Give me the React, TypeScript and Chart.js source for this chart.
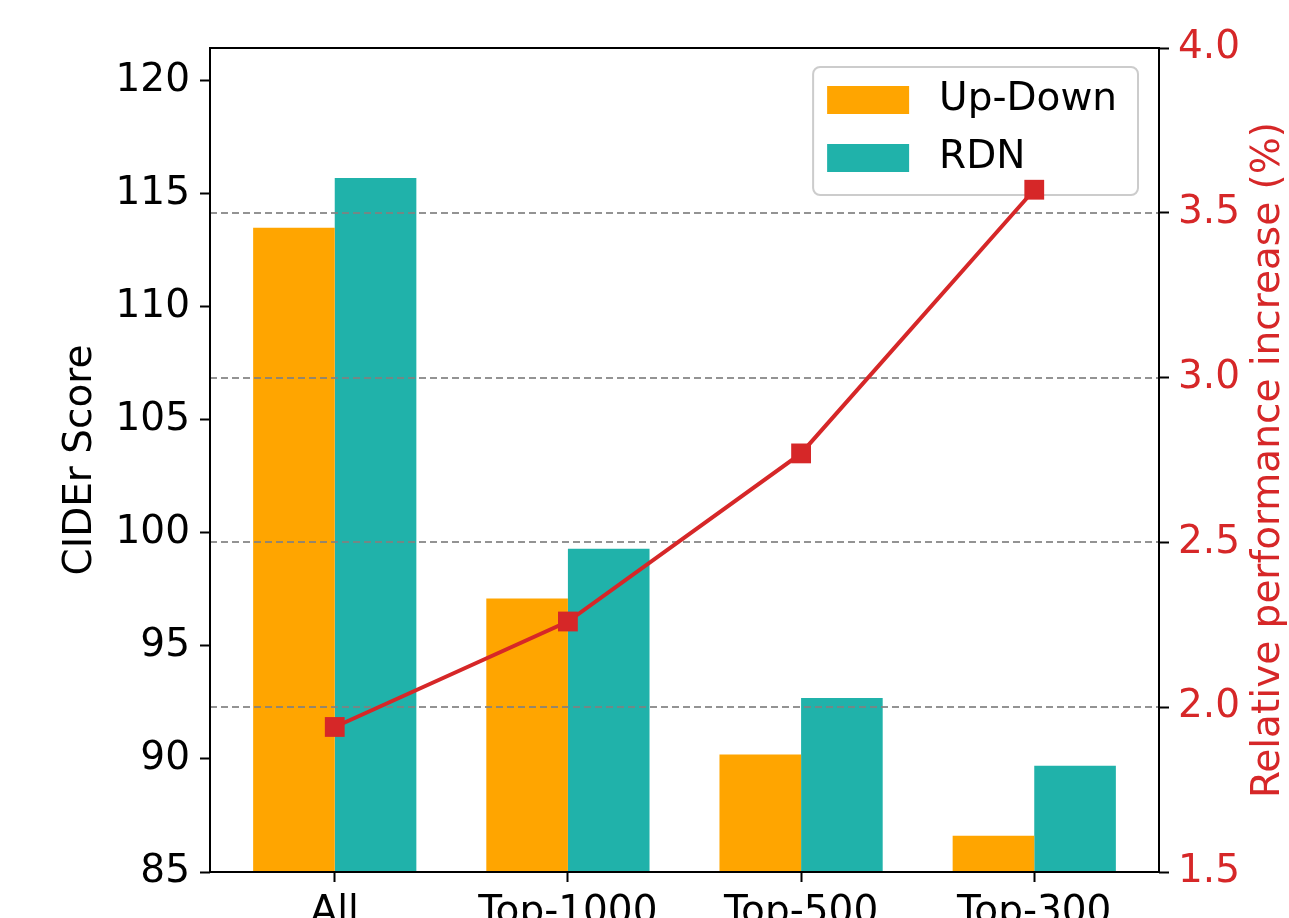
import React, { useEffect, useRef } from "react";
import { Chart, registerables } from "chart.js";

Chart.register(...registerables);

// ---- data ----
const categories = ["All", "Top-1000", "Top-500", "Top-300"];
const upDown = [113.5, 97.1, 90.2, 86.6];
const rdn = [115.7, 99.3, 92.7, 89.7];
const relIncrease = [1.94, 2.26, 2.77, 3.57];
const leftTicks = [85, 90, 95, 100, 105, 110, 115, 120];
const rightTicks = [1.5, 2.0, 2.5, 3.0, 3.5, 4.0];
const seriesNames = ["Up-Down", "RDN"];
const leftTitle = "CIDEr Score";
const rightTitle = "Relative performance increase (%)";

// ---- styles ----
const ORANGE = "#FFA500";
const TEAL = "#20B2AA";
const RED = "#D62728";
const FAMILY = "'DejaVu Sans', 'Liberation Sans', sans-serif";
const FS = 39;

const overlayPlugin = {
  id: "overlay",
  beforeDatasetDraw(chart: any, args: any) {
    if (args.meta.type !== "line") return;
    const { ctx, chartArea: ca, scales } = chart;
    // dashed grid lines (right axis), drawn above bars
    ctx.save();
    ctx.strokeStyle = "rgba(128,128,128,0.85)";
    ctx.lineWidth = 2;
    ctx.setLineDash([7, 4]);
    for (const t of scales.y2.ticks) {
      const y = Math.round(scales.y2.getPixelForValue(t.value));
      if (y <= ca.top + 1 || y >= ca.bottom - 1) continue;
      ctx.beginPath();
      ctx.moveTo(ca.left, y);
      ctx.lineTo(ca.right, y);
      ctx.stroke();
    }
    ctx.restore();

    // legend (drawn before the line, like matplotlib twin axes)
    ctx.save();
    ctx.font = `${FS}px ${FAMILY}`;
    const tw = Math.max(...seriesNames.map((s) => ctx.measureText(s).width));
    const padL = 14, patchW = 82, patchH = 28, gap = 30, padR = 21;
    const w = padL + patchW + gap + tw + padR;
    const h = 128;
    const right = ca.right - 21;
    const top = ca.top + 19;
    const left = right - w;
    ctx.beginPath();
    ctx.roundRect(left, top, w, h, 7);
    ctx.fillStyle = "rgba(255,255,255,0.85)";
    ctx.fill();
    ctx.strokeStyle = "#cccccc";
    ctx.lineWidth = 2;
    ctx.stroke();
    const colors = [ORANGE, TEAL];
    const rowC = [top + 33, top + 91];
    seriesNames.forEach((name, i) => {
      ctx.fillStyle = colors[i];
      ctx.fillRect(left + padL, rowC[i] - patchH / 2, patchW, patchH);
      ctx.fillStyle = "#000";
      ctx.textBaseline = "middle";
      ctx.textAlign = "left";
      ctx.fillText(name, left + padL + patchW + gap, rowC[i]);
    });
    ctx.restore();
  },
  afterDatasetsDraw(chart: any) {
    const { ctx, chartArea: ca } = chart;
    ctx.save();
    ctx.strokeStyle = "#000";
    ctx.lineWidth = 2;
    ctx.strokeRect(ca.left, ca.top, ca.right - ca.left, ca.bottom - ca.top);
    ctx.restore();
  },
  afterDraw(chart: any) {
    const { ctx, chartArea: ca } = chart;
    ctx.save();
    ctx.font = `${FS}px ${FAMILY}`;
    ctx.fillStyle = RED;
    ctx.textAlign = "center";
    ctx.textBaseline = "middle";
    ctx.translate(ca.right + 110, (ca.top + ca.bottom) / 2);
    ctx.rotate(-Math.PI / 2);
    ctx.fillText(rightTitle, 0, 0);
    ctx.restore();
  },
};

export default function App() {
  const canvasRef = useRef<HTMLCanvasElement | null>(null);

  useEffect(() => {
    if (!canvasRef.current) return;
    const tickGrid = {
      display: true,
      drawOnChartArea: false,
      drawTicks: true,
      tickLength: 10,
      tickWidth: 2,
      tickColor: "#000",
      offset: false,
    };
    const chart = new Chart(canvasRef.current, {
      type: "bar",
      data: {
        datasets: [
          {
            type: "line",
            label: "Relative increase",
            data: relIncrease.map((v, i) => ({ x: i, y: v })),
            yAxisID: "y2",
            xAxisID: "x",
            borderColor: RED,
            backgroundColor: RED,
            borderWidth: 4,
            pointStyle: "rect",
            pointRadius: 14,
            pointBorderWidth: 0,
            pointBackgroundColor: RED,
            tension: 0,
            order: 0,
          } as any,
          {
            type: "bar",
            label: seriesNames[0],
            data: upDown.map((v, i) => ({ x: i, y: v })),
            backgroundColor: ORANGE,
            borderWidth: 0,
            yAxisID: "y",
            xAxisID: "x",
            categoryPercentage: 0.7,
            barPercentage: 1.0,
            order: 1,
          },
          {
            type: "bar",
            label: seriesNames[1],
            data: rdn.map((v, i) => ({ x: i, y: v })),
            backgroundColor: TEAL,
            borderWidth: 0,
            yAxisID: "y",
            xAxisID: "x",
            categoryPercentage: 0.7,
            barPercentage: 1.0,
            order: 1,
          },
        ],
      },
      options: {
        animation: false,
        responsive: false,
        layout: { padding: { top: 48, left: 0, right: 0, bottom: 0 } },
        plugins: {
          legend: { display: false },
          tooltip: { enabled: false },
        },
        scales: {
          x: {
            type: "linear",
            position: "bottom",
            min: -0.535,
            max: 3.535,
            offset: false,
            afterBuildTicks: (s: any) => {
              s.ticks = categories.map((_, i) => ({ value: i }));
            },
            ticks: {
              callback: (_v: any, i: number) => categories[i] ?? "",
              font: { family: FAMILY, size: FS },
              color: "#000",
              padding: 7,
              maxRotation: 0,
              minRotation: 0,
              autoSkip: false,
            },
            grid: tickGrid,
            border: { display: false },
            afterFit: (s: any) => {
              s.height = 46;
            },
          } as any,
          y: {
            type: "linear",
            position: "left",
            min: 85,
            max: 121.45,
            afterBuildTicks: (s: any) => {
              s.ticks = leftTicks.map((v) => ({ value: v }));
            },
            ticks: {
              callback: (v: any) => String(v),
              font: { family: FAMILY, size: FS },
              color: "#000",
              padding: 10,
            },
            grid: tickGrid,
            border: { display: false },
            title: {
              display: true,
              text: leftTitle,
              font: { family: FAMILY, size: FS },
              color: "#000",
              padding: { top: 57, bottom: 0 },
            },
            afterFit: (s: any) => {
              s.width = 210;
            },
          } as any,
          y2: {
            type: "linear",
            position: "right",
            min: 1.5,
            max: 4.0,
            afterBuildTicks: (s: any) => {
              s.ticks = rightTicks.map((v) => ({ value: v }));
            },
            ticks: {
              callback: (v: any) => Number(v).toFixed(1),
              font: { family: FAMILY, size: FS },
              color: RED,
              padding: 9,
            },
            grid: tickGrid,
            border: { display: false },
            afterFit: (s: any) => {
              s.width = 130;
            },
          } as any,
        },
      },
      plugins: [overlayPlugin],
    });
    return () => chart.destroy();
  }, []);

  return (
    <div style={{ position: "absolute", left: 0, top: 0, width: 1289, height: 918, background: "#fff", overflow: "hidden" }}>
      <canvas ref={canvasRef} width={1289} height={918} style={{ display: "block" }} />
    </div>
  );
}
